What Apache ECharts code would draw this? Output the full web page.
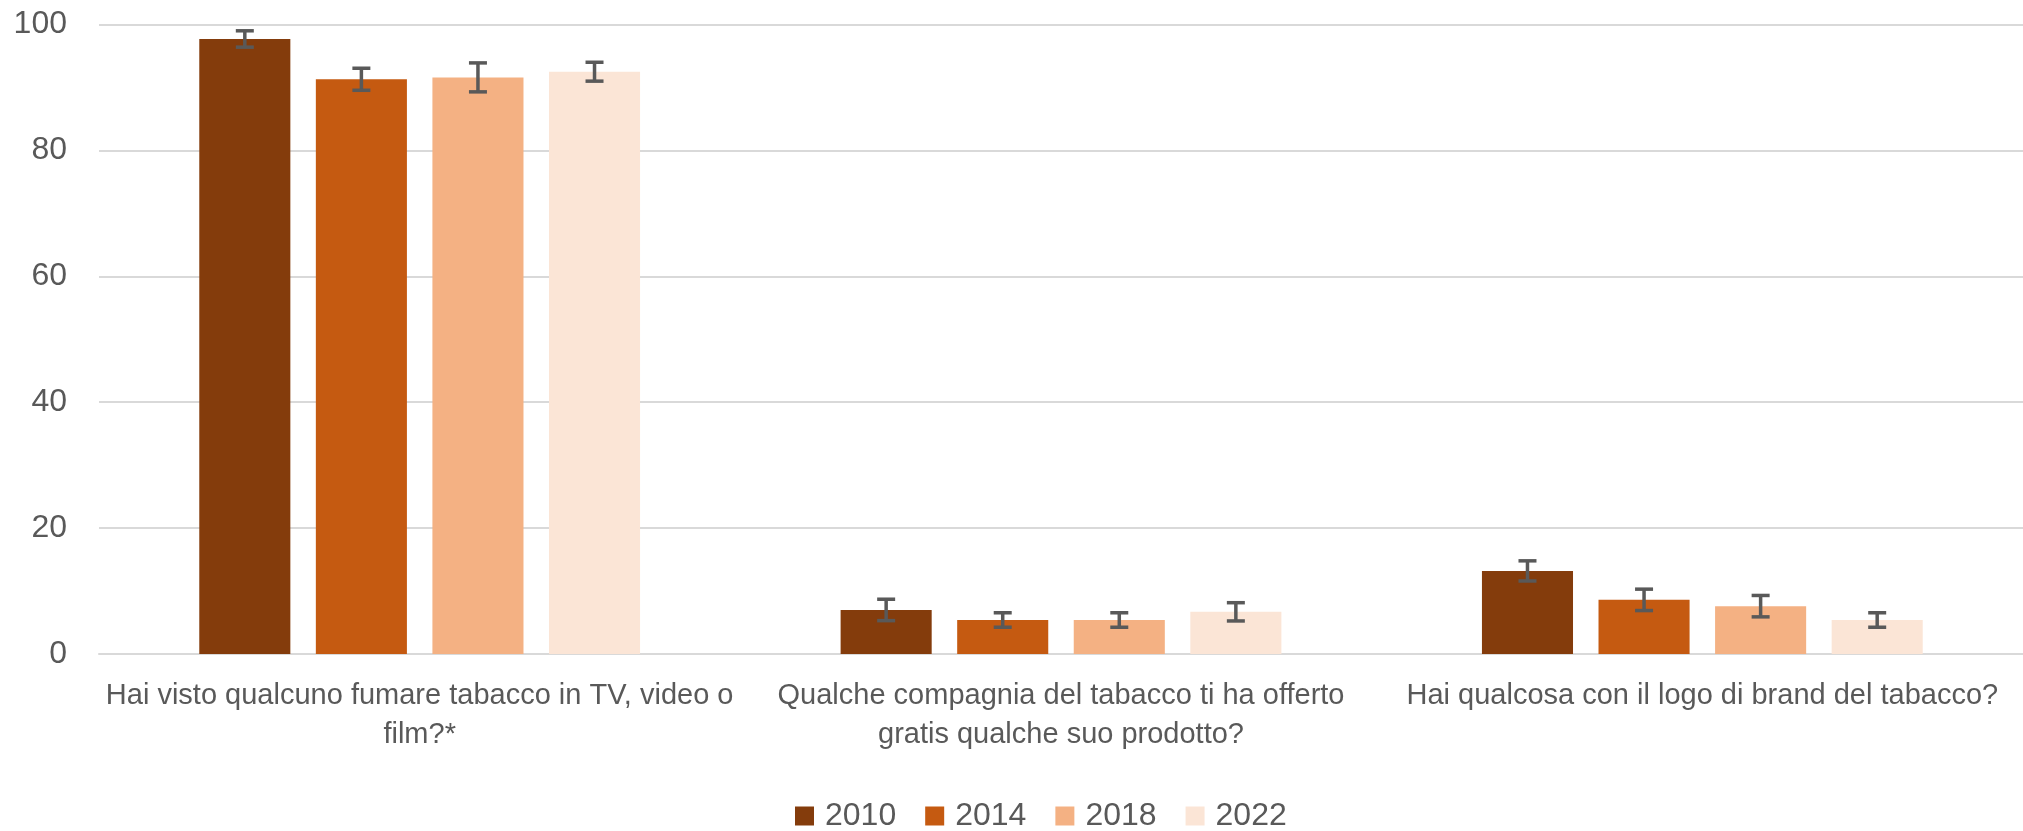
<!DOCTYPE html>
<html>
<head>
<meta charset="utf-8">
<script src="https://cdn.jsdelivr.net/npm/echarts@6/dist/echarts.min.js"></script>
<style>
  html, body { margin: 0; padding: 0; background: #fff; }
  #chart { width: 2023px; height: 831px; }
</style>
</head>
<body>
<div id="chart"></div>
<script>
// domande (categorie asse x)
var categories = [
  'Hai visto qualcuno fumare tabacco in TV, video o\nfilm?*',
  'Qualche compagnia del tabacco ti ha offerto\ngratis qualche suo prodotto?',
  'Hai qualcosa con il logo di brand del tabacco?'
];
var years = ['2010', '2014', '2018', '2022'];
var yTicks = [0, 20, 40, 60, 80, 100];

// percentuali
var val2010 = [97.7, 7.0, 13.2];
var val2014 = [91.3, 5.4, 8.6];
var val2018 = [91.6, 5.4, 7.6];
var val2022 = [92.5, 6.7, 5.4];

// semi-ampiezza intervallo di confidenza
var err2010 = [1.3, 1.7, 1.6];
var err2014 = [1.75, 1.15, 1.7];
var err2018 = [2.3, 1.15, 1.7];
var err2022 = [1.5, 1.45, 1.15];

var colors = ['#843C0C', '#C55A11', '#F4B183', '#FBE5D6'];
var BAR_RATIO = 0.142;   // larghezza barra / larghezza categoria
var GAP_RATIO = 0.28;    // spazio tra barre / larghezza barra

var values = [val2010, val2014, val2018, val2022];
var errors = [err2010, err2014, err2018, err2022];

var myChart = echarts.init(document.getElementById('chart'));

function errorSeries(k) {
  var data = values[k].map(function (v, i) {
    return [i, v - errors[k][i], v + errors[k][i]];
  });
  return {
    type: 'custom',
    name: 'err' + years[k],
    z: 10,
    silent: true,
    data: data,
    encode: { x: 0, y: [1, 2] },
    renderItem: function (params, api) {
      var band = api.size([1, 0])[0];
      var bw = band * BAR_RATIO;
      var gap = bw * GAP_RATIO;
      var total = years.length * bw + (years.length - 1) * gap;
      var off = -total / 2 + k * (bw + gap) + bw / 2;
      var lo = api.coord([api.value(0), api.value(1)]);
      var hi = api.coord([api.value(0), api.value(2)]);
      var x = lo[0] + off;
      var half = 9;
      var style = { stroke: '#595959', lineWidth: 3.5, fill: null };
      return {
        type: 'group',
        children: [
          { type: 'line', shape: { x1: x, y1: lo[1], x2: x, y2: hi[1] }, style: style },
          { type: 'line', shape: { x1: x - half, y1: lo[1], x2: x + half, y2: lo[1] }, style: style },
          { type: 'line', shape: { x1: x - half, y1: hi[1], x2: x + half, y2: hi[1] }, style: style }
        ]
      };
    }
  };
}

var series = years.map(function (y, k) {
  return {
    name: y,
    type: 'bar',
    barWidth: (BAR_RATIO * 100) + '%',
    barGap: (GAP_RATIO * 100) + '%',
    itemStyle: { color: colors[k] },
    data: values[k]
  };
});
for (var k = 0; k < years.length; k++) {
  series.push(errorSeries(k));
}

var option = {
  animation: false,
  textStyle: { fontFamily: 'Liberation Sans, Arial, sans-serif' },
  grid: {
    left: 99,
    top: 24.5,
    width: 1931,
    bottom: 177
  },
  legend: {
    data: years,
    left: 790,
    top: 795,
    icon: 'rect',
    itemWidth: 19,
    itemHeight: 19,
    itemGap: 29,
    textStyle: { color: '#595959', fontSize: 32, padding: [0, 0, 0, 6] }
  },
  xAxis: {
    type: 'category',
    data: categories,
    axisTick: { show: false },
    axisLine: { lineStyle: { color: '#D9D9D9', width: 2 } },
    axisLabel: {
      color: '#595959',
      fontSize: 29,
      lineHeight: 39,
      margin: 22,
      interval: 0
    }
  },
  yAxis: {
    type: 'value',
    min: yTicks[0],
    max: yTicks[yTicks.length - 1],
    interval: 20,
    axisLine: { show: false },
    axisTick: { show: false },
    splitLine: { lineStyle: { color: '#D9D9D9', width: 2 } },
    axisLabel: { color: '#595959', fontSize: 32, margin: 32 }
  },
  series: series
};

myChart.setOption(option);
window.addEventListener('resize', function () {
  myChart.resize();
});
</script>
</body>
</html>
